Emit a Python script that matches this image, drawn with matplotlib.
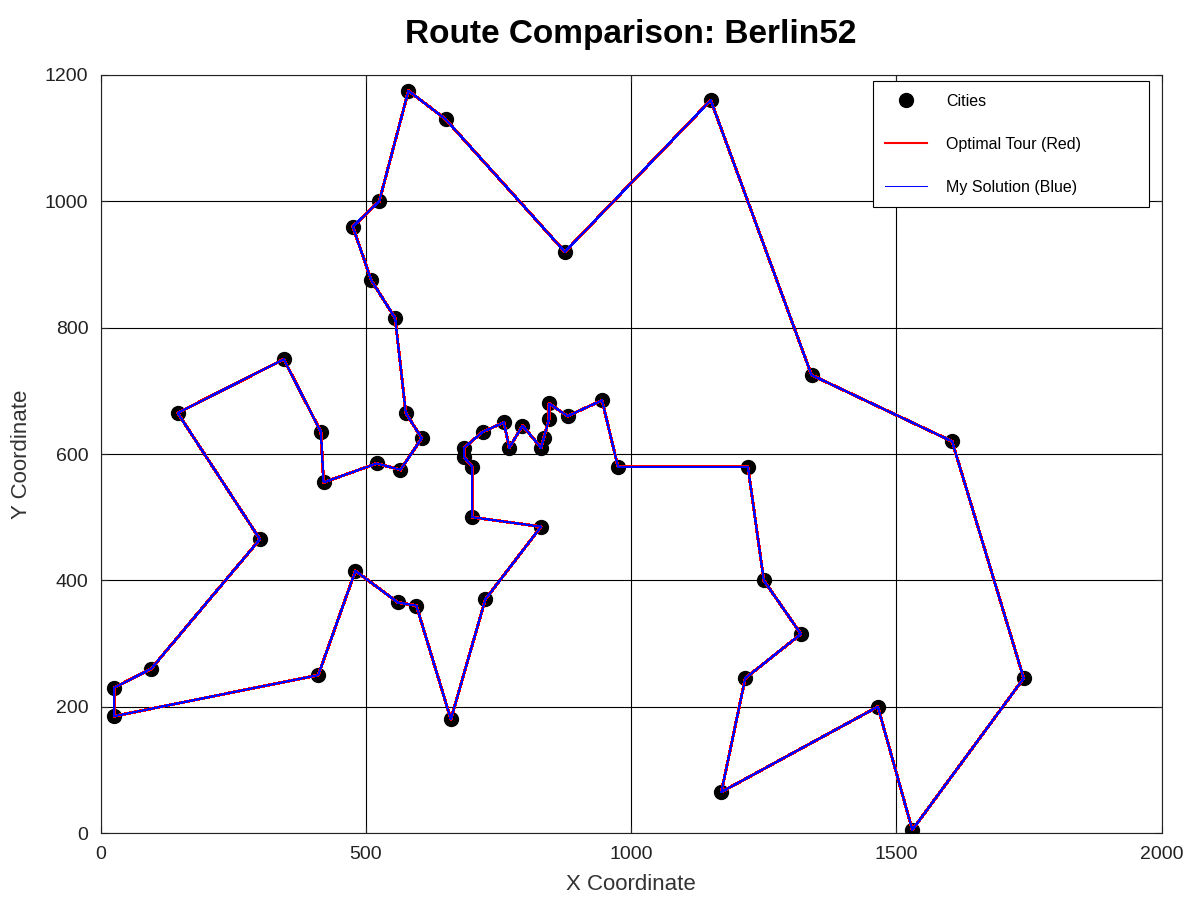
import numpy as np
from matplotlib import pyplot as plt

# Berlin52 city coordinates (city 1..52)
xs = [565, 25, 345, 945, 845, 880, 25, 525, 580, 650, 1605, 1220, 1465, 1530, 845, 725,
      145, 415, 510, 560, 300, 520, 480, 835, 975, 1215, 1320, 1250, 660, 410, 420, 575,
      1150, 700, 685, 685, 770, 795, 720, 760, 475, 95, 875, 700, 555, 830, 1170, 830,
      605, 595, 1340, 1740]
ys = [575, 185, 750, 685, 655, 660, 230, 1000, 1175, 1130, 620, 580, 200, 5, 680, 370,
      665, 635, 875, 365, 465, 585, 415, 625, 580, 245, 315, 400, 180, 250, 555, 665,
      1160, 580, 595, 610, 610, 645, 635, 650, 960, 260, 920, 500, 815, 485, 65, 610,
      625, 360, 725, 245]

# tours as 1-based city order
optimal_tour = [1, 49, 32, 45, 19, 41, 8, 9, 10, 43, 33, 51, 11, 52, 14, 13, 47, 26, 27, 28,
                12, 25, 4, 6, 15, 5, 24, 48, 38, 37, 40, 39, 36, 35, 34, 44, 46, 16, 29, 50,
                20, 23, 30, 2, 7, 42, 21, 17, 3, 18, 31, 22, 1]
my_tour = list(optimal_tour)

xs = np.array(xs)
ys = np.array(ys)
opt = np.array(optimal_tour) - 1
mine = np.array(my_tour) - 1

plt.rcParams['font.family'] = ['Liberation Sans', 'DejaVu Sans']

fig = plt.figure(figsize=(12, 9), dpi=100)
ax = fig.add_axes([0.084, 0.0744, 0.884, 0.8423])

ax.plot(xs, ys, 'o', color='black', markersize=10, label='Cities', zorder=3)
# aliased lines like the octave renderer: wide red under a 1px blue
ax.plot(xs[opt], ys[opt], color='red', linewidth=1.5, antialiased=False,
        label='Optimal Tour (Red)', zorder=4)
ax.plot(xs[mine], ys[mine], color='blue', linewidth=0.75, antialiased=False,
        label='My Solution (Blue)', zorder=5)

ax.set_xlim(0, 2000)
ax.set_ylim(0, 1200)
ax.set_xticks([0, 500, 1000, 1500, 2000])
ax.set_yticks([0, 200, 400, 600, 800, 1000, 1200])
ax.grid(True, color='black', linewidth=0.8)
ax.set_axisbelow(True)
ax.tick_params(direction='in', top=True, right=True, labelsize=14, colors='#222222',
               length=5, pad=9)
for s in ax.spines.values():
    s.set_color('#222222')

ax.set_xlabel('X Coordinate', fontsize=16, color='#333333', labelpad=8)
ax.set_ylabel('Y Coordinate', fontsize=16, color='#333333', labelpad=9)
ax.set_title('Route Comparison: Berlin52', fontsize=24, fontweight='bold', pad=23)

# legend box roughly where octave puts it, wide with empty space on the right
leg = ax.legend(loc='upper left', bbox_to_anchor=(0.7276, 0.992, 0.2601, 0.0),
                mode='expand', fontsize=11.5, fancybox=False, edgecolor='black',
                framealpha=1, labelspacing=1.75, borderpad=0.8, handlelength=2.6,
                handletextpad=1.2, borderaxespad=0.0)
leg.get_frame().set_linewidth(0.8)

plt.savefig('out.png')
